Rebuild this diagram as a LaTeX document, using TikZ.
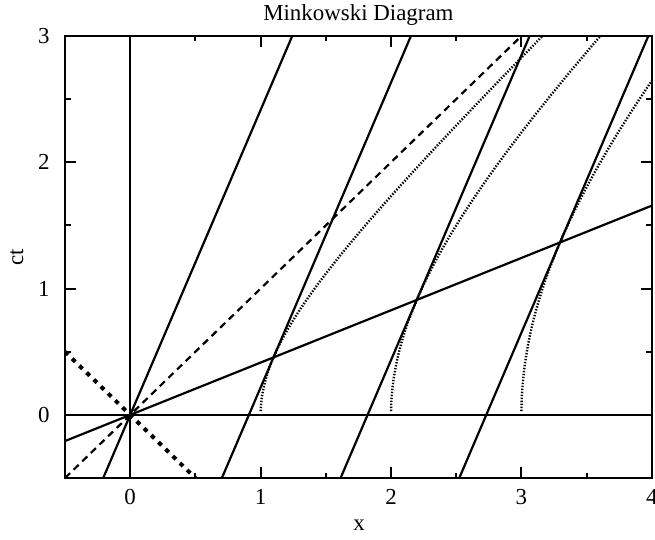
\documentclass[tikz,border=0pt]{standalone}
\usepackage{fontspec}
\setmainfont{Liberation Serif}
\usepackage{tikz}
\tikzset{
  frameline/.style={line width=1bp},
  world/.style={line width=1.1bp},
  lightdash/.style={line width=1.1bp,dash pattern=on 3.5bp off 2.5bp},
  lightdot/.style={line width=2bp,dash pattern=on 2.2bp off 2.8bp},
  hyper/.style={line width=1.2bp,dash pattern=on 0.7bp off 0.8bp},
  lbl/.style={font=\fontsize{11.5}{13}\selectfont,inner sep=0pt}
}
\begin{document}
\begin{tikzpicture}[x=65.2bp,y=63.15bp]
\useasboundingbox (-0.9985,-0.9905) rectangle (4.0245,3.285);
\def\bet{0.41421}
\def\ginv{0.91018}
% frame and ticks
\draw[frameline] (-0.5,-0.5) rectangle (4,3);
\foreach \i in {0,...,4} {
  \draw[frameline] (\i,-0.5) -- ++(0,5.5bp);
  \draw[frameline] (\i,3) -- ++(0,-5.5bp);
  \node[lbl,anchor=base] (xt\i) at (\i,-0.713) {\i};
}
\foreach \i in {0.5,1.5,2.5,3.5} {
  \draw[frameline] (\i,-0.5) -- ++(0,2.75bp);
  \draw[frameline] (\i,3) -- ++(0,-2.75bp);
}
\foreach \i in {0,...,3} {
  \draw[frameline] (-0.5,\i) -- ++(5.5bp,0);
  \draw[frameline] (4,\i) -- ++(-5.5bp,0);
  \node[lbl,anchor=east] (yt\i) at (-0.615,\i) {\i};
}
\foreach \i in {0.5,1.5,2.5} {
  \draw[frameline] (-0.5,\i) -- ++(2.75bp,0);
  \draw[frameline] (4,\i) -- ++(-2.75bp,0);
}
\node[lbl,anchor=base] (title) at (1.75,3.119) {Minkowski Diagram};
\node[lbl,anchor=base] (xlabel) at (1.755,-0.912) {x};
\node[lbl,rotate=90] (ctlabel) at (-0.870,1.246) {ct};
\begin{scope}
\clip (-0.5,-0.5) rectangle (4,3);
% rest frame axes
\draw[world] (-0.5,0) -- (4,0);
\draw[world] (0,-0.5) -- (0,3);
% moving frame: ct' and x' axes
\draw[world] ({-0.5*\bet},-0.5) -- ({3*\bet},3);
\draw[world] (-0.5,{-0.5*\bet}) -- (4,{4*\bet});
% world lines x' = 1,2,3
\foreach \n in {1,2,3}
  \draw[world] ({\n*\ginv-0.5*\bet},-0.5) -- ({\n*\ginv+3*\bet},3);
% light cone
\draw[lightdash] (-0.5,-0.5) -- (3,3);
\draw[lightdot] (-0.5,0.5) -- (0.5,-0.5);
% hyperbolae x^2-(ct)^2 = n^2
\draw[hyper,domain=0.03:3,samples=60,variable=\t] plot ({sqrt(1+\t*\t)},\t);
\draw[hyper,domain=0.03:3,samples=60,variable=\t] plot ({sqrt(4+\t*\t)},\t);
\draw[hyper,domain=0.03:2.6458,samples=60,variable=\t] plot ({sqrt(9+\t*\t)},\t);
\end{scope}
\end{tikzpicture}
\end{document}
